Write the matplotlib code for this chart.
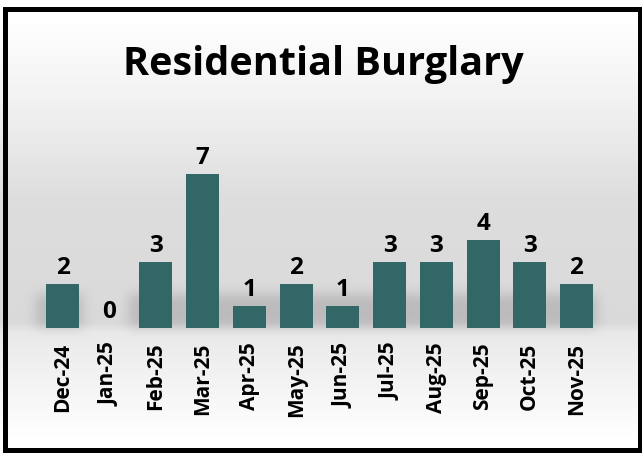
import numpy as np
import matplotlib
matplotlib.use("Agg")
import matplotlib.pyplot as plt
from matplotlib.patches import Rectangle

months = ["Dec-24", "Jan-25", "Feb-25", "Mar-25", "Apr-25", "May-25",
          "Jun-25", "Jul-25", "Aug-25", "Sep-25", "Oct-25", "Nov-25"]
counts = [2, 0, 3, 7, 1, 2, 1, 3, 3, 4, 3, 2]
title = "Residential Burglary"

FONT = "Open Sans"
W, H = 642, 457
fig = plt.figure(figsize=(W / 100, H / 100), dpi=100)

bg = fig.add_axes([0, 0, 1, 1])
bg.axis("off")
ax = fig.add_axes([34.5 / W, 129 / H, 570 / W, 176 / H])
ax.patch.set_alpha(0)
x = np.arange(len(months))
bars = ax.bar(x, counts, width=0.707, color="#336666", linewidth=0, zorder=3)
ax.set_xlim(-0.6, 11.6)
ax.set_ylim(0, 8)

# background gradient
ys = np.arange(H)
stops_y = [0, 14, 100, 200, 322, 332, 440, 457]
stops_v = [1.0, 1.0, 0.945, 0.865, 0.85, 0.91, 1.0, 1.0]
col = np.interp(ys, stops_y, stops_v)
img = np.repeat(col[:, None], W, axis=1)

# soft shadows at the bar bases
fig.canvas.draw()
mask = np.zeros((H, W))
for b in bars:
    if b.get_height() <= 0:
        continue
    (x0, y0), (x1, y1) = ax.transData.transform(
        [(b.get_x(), 0), (b.get_x() + b.get_width(), b.get_height())])
    r_base = int(round(H - y0))
    r_top = int(round(H - y0 - min(y1 - y0 + 12, 34)))
    c0 = int(round(x0 - 10))
    c1 = int(round(x1 + 4))
    mask[max(r_top, 0):r_base, max(c0, 0):min(c1, W)] = 1.0
k = np.arange(-18, 19)
g = np.exp(-k ** 2 / (2 * 6.0 ** 2))
g /= g.sum()
mask = np.apply_along_axis(lambda r: np.convolve(r, g, mode="same"), 1, mask)
mask = np.apply_along_axis(lambda c: np.convolve(c, g, mode="same"), 0, mask)
img = img - 0.12 * mask

bg.imshow(img, cmap="gray", vmin=0, vmax=1, extent=[0, W, H, 0], aspect="auto",
          interpolation="bilinear")
bg.set_xlim(0, W)
bg.set_ylim(H, 0)
bg.add_patch(Rectangle((4.5, 8.5), 635, 441, fill=False, lw=3.6, ec="black"))

for s in ax.spines.values():
    s.set_visible(False)
ax.set_yticks([])
ax.set_xticks(x)
ax.set_xticklabels(months, rotation=90, fontsize=15, fontweight="bold", family=FONT)
ax.tick_params(axis="x", length=0, pad=10.5)
for xi, v in zip(x, counts):
    ax.annotate(str(v), (xi, v), xytext=(0, 3), textcoords="offset points",
                ha="center", va="bottom", fontsize=17.5, fontweight="bold", family=FONT)

fig.text(0.503, (H - 75) / H, title, ha="center", va="baseline",
         fontsize=28.5, fontweight="bold", family=FONT)

fig.savefig("out.png", dpi=100)
